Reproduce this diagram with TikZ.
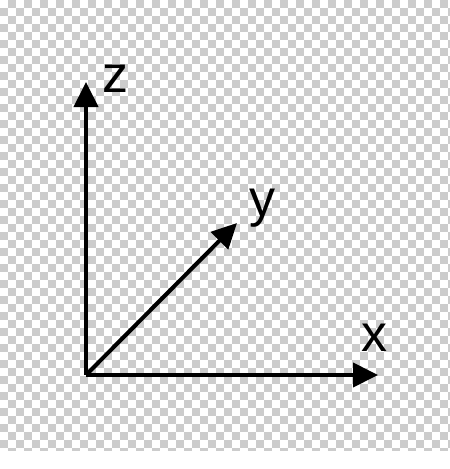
\documentclass[tikz,border=0pt]{standalone}
\usepackage{fontspec}
\setmainfont{Liberation Sans}
\usetikzlibrary{arrows.meta}
\definecolor{checkgray}{RGB}{204,204,204}

\begin{document}
\begin{tikzpicture}[x=1pt, y=-1pt,
    axis/.style={line width=4pt, -{Triangle[length=25pt, width=24pt]}},
    axislabel/.style={font=\fontsize{52}{52}\selectfont, inner sep=0pt}]
    \useasboundingbox (0,0) rectangle (450,469);
    \fill[white] (0,0) rectangle (450,469);
    % checkerboard background
    \begin{scope}
        \clip (0,0) rectangle (450,450);
        \foreach \i in {0,...,56}{
            \foreach \j in {0,...,56}{
                \pgfmathtruncatemacro\k{mod(\i+\j,2)}
                \ifnum\k=1 \fill[checkgray] (\i*8,\j*8) rectangle +(8,8); \fi
            }
        }
    \end{scope}
    % axes
    \coordinate (O) at (86,375);
    \coordinate (zend) at (86,82);
    \coordinate (yend) at (237,223);
    \coordinate (xend) at (378,375);
    \draw[axis] (O) -- (zend);
    \draw[axis] (O) -- (yend);
    \draw[axis] (O) -- (xend);
    \node[axislabel] (zlabel) at (115,79) {z};
    \node[axislabel] (ylabel) at (262,208) {y};
    \node[axislabel] (xlabel) at (374,338) {x};
\end{tikzpicture}
\end{document}
